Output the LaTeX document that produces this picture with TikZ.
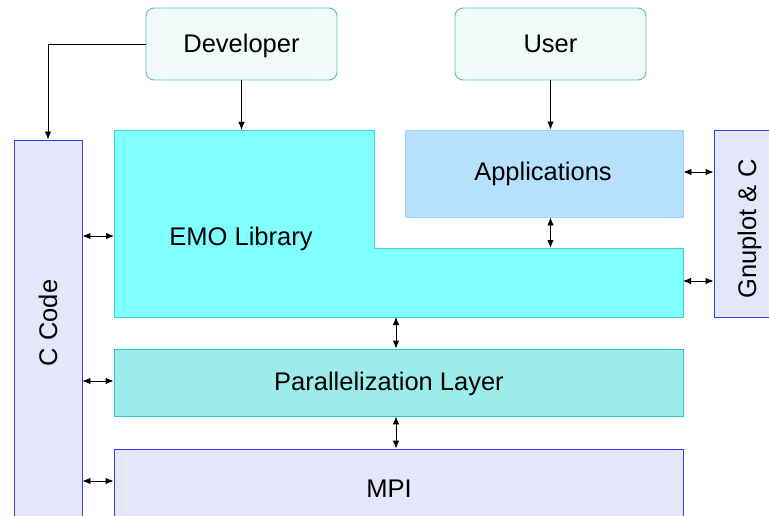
\documentclass[tikz,border=0pt]{standalone}
\usepackage{fontspec}
\setmainfont{Liberation Sans}
\usetikzlibrary{arrows.meta}
\definecolor{actorfill}{HTML}{F0FAF9}
\definecolor{actordraw}{HTML}{5CBDBA}
\definecolor{emofill}{HTML}{80FFFF}
\definecolor{emodraw}{HTML}{3DD6D6}
\definecolor{appfill}{HTML}{B7E0FC}
\definecolor{appdraw}{HTML}{9DD3F5}
\definecolor{parfill}{HTML}{9CECEC}
\definecolor{pardraw}{HTML}{2BC9C9}
\definecolor{lavfill}{HTML}{E6E6FA}
\definecolor{lavdraw}{HTML}{3A3AFF}
\tikzset{
  lbl/.style={font=\fontsize{25.5}{30}\selectfont, text=black, inner sep=0pt,
    text height=18pt, text depth=0pt},
  actor/.style={draw=actordraw, fill=actorfill, rounded corners=8pt, line width=0.9pt,
    minimum width=191pt, minimum height=72pt, inner sep=0pt, font=\fontsize{25.5}{30}\selectfont,
    text height=18pt, text depth=0pt},
  layer/.style={line width=0.9pt, inner sep=0pt},
  link/.style={line width=0.9pt, -{Latex[length=8pt,width=6.5pt]}},
  dlink/.style={line width=0.9pt, {Latex[length=8pt,width=6.5pt]}-{Latex[length=8pt,width=6.5pt]}},
}
\begin{document}
\begin{tikzpicture}[x=1pt,y=-1pt]
\useasboundingbox (0,0) rectangle (769,516);
\clip (0,0) rectangle (769,516);
\fill[white] (0,0) rectangle (769,516);

% actors
\node[actor] (dev) at (241.5,44) {Developer};
\node[actor] (user) at (550.5,44) {User};

% side columns
\node[layer, draw=lavdraw, fill=lavfill, minimum width=68pt, minimum height=400pt] (ccode) at (48,340) {};
\node[lbl, rotate=90] (ccodelbl) at (48,323) {C Code};
\node[layer, draw=lavdraw, fill=lavfill, minimum width=76pt, minimum height=187pt] (gnu) at (752,223.5) {};
\node[lbl, rotate=90] (gnulbl) at (747,229) {Gnuplot \& C};

% EMO library (L-shaped)
\coordinate (emoTL) at (114,130);
\coordinate (emoStep) at (374,248);
\coordinate (emoBR) at (683,317);
\draw[emodraw, fill=emofill, line width=0.9pt]
  (emoTL) -- (374,130) -- (emoStep) -- (683,248) -- (emoBR) -- (114,317) -- cycle;
\node[lbl] (emo) at (241,236) {EMO Library};

% applications
\node[layer, draw=appdraw, fill=appfill, minimum width=278pt, minimum height=87pt] (apps) at (544,173.5) {};
\node[lbl] (appslbl) at (543,172) {Applications};

% lower layers
\node[layer, draw=pardraw, fill=parfill, minimum width=569pt, minimum height=67pt] (par) at (398.5,382.5) {};
\node[lbl] (parlbl) at (389,381) {Parallelization Layer};
\node[layer, draw=lavdraw, fill=lavfill, minimum width=569pt, minimum height=120pt] (mpi) at (398.5,509) {};
\node[lbl] (mpilbl) at (389,488) {MPI};

% connectors from actors
\draw[link] (dev.south) -- (dev.south |- emoTL);
\draw[link] (dev.west) -| (ccode.north);
\draw[link] (user.south) -- (user.south |- apps.north);

% C code to layers
\draw[dlink] (ccode.east |- emo) -- (emoTL |- emo);
\draw[dlink] (ccode.east |- parlbl) -- (par.west |- parlbl);
\draw[dlink] (ccode.east |- 0,481) -- (mpi.west |- 0,481);

% vertical links
\draw[dlink] (apps.south -| user.south) -- (user.south |- emoStep);
\coordinate (vx) at (396,0);
\draw[dlink] (vx |- emoBR) -- (vx |- par.north);
\draw[dlink] (vx |- par.south) -- (vx |- mpi.north);

% links to Gnuplot & C
\draw[dlink] (apps.east |- 0,172) -- (gnu.west |- 0,172);
\draw[dlink] (emoBR |- 0,281) -- (gnu.west |- 0,281);
\end{tikzpicture}
\end{document}
